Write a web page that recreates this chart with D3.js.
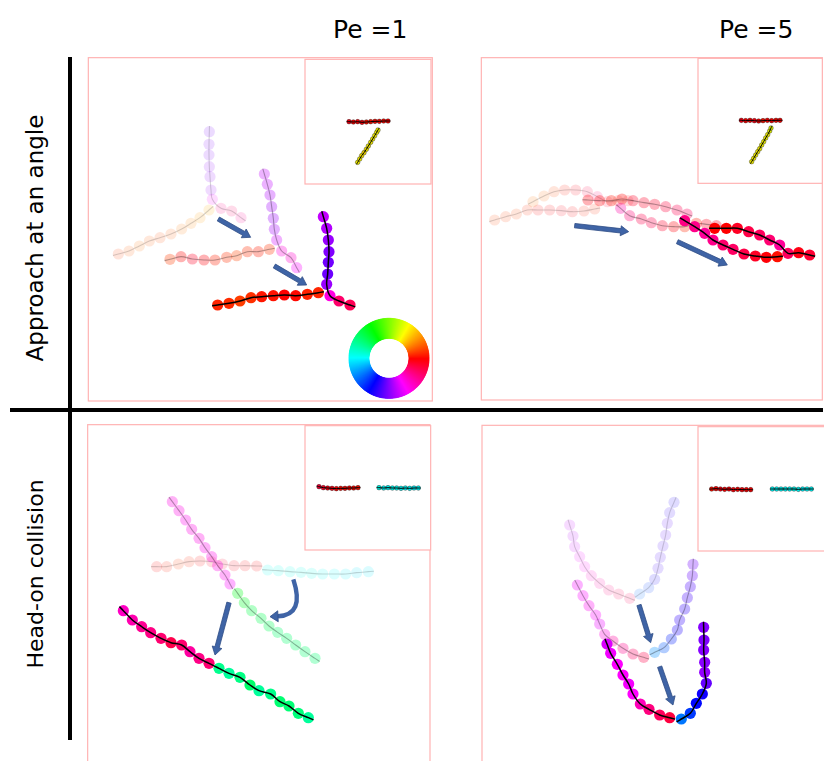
<!DOCTYPE html>
<html lang="en">
<head>
<meta charset="UTF-8">
<title>Filament collisions</title>
<script src="https://d3js.org/d3.v7.min.js"></script>
<style>
  body { margin: 0; background: #fff; }
  text { font-family: "DejaVu Sans", sans-serif; fill: #000; }
</style>
</head>
<body>
<svg id="fig" width="824" height="761"></svg>
<script>
// bead centres, in panel units (0..1050 across a panel window)
// each filament is ordered head -> tail, its colour comes from the local direction

// approach at an angle, Pe = 1
var tlA1 = [[100,597],[132,588],[163,573],[193,558],[225,548],[258,537],[290,522],[318,505],[345,488],[372,465]];
var tlB1 = [[373,230],[372,268],[372,300],[373,335],[375,365],[378,405],[382,433],[408,460],[440,468],[468,488]];
var tlA2 = [[255,613],[288,605],[322,612],[357,615],[390,615],[425,607],[455,602],[487,590],[520,590],[553,583]];
var tlB2 = [[538,357],[547,388],[555,420],[560,455],[565,490],[568,523],[575,555],[590,588],[618,608],[635,638]];
var tlA3 = [[398,750],[432,745],[465,738],[498,728],[530,725],[565,722],[598,720],[632,722],[667,718],[700,713]];
var tlB3 = [[715,485],[725,520],[730,555],[732,590],[730,622],[728,657],[725,688],[735,722],[762,738],[795,750]];
var tlInA = [[792,200],[805,201],[818,200],[831,202],[844,201],[857,200],[870,199],[883,199],[896,198],[909,198]];
var tlInB = [[818,322],[824,312],[830,302],[837,293],[844,283],[850,273],[857,262],[863,252],[869,242],[875,232],[879,225]];

// approach at an angle, Pe = 5
var trA1 = [[50,495],[83,485],[115,477],[148,465],[180,465],[215,465],[250,467],[283,470],[318,468],[350,462]];
var trB1 = [[165,440],[198,423],[228,410],[260,405],[293,405],[328,410],[358,425],[388,440],[420,437],[450,437]];
var trA2 = [[330,435],[365,437],[400,437],[432,432],[465,437],[498,443],[530,448],[563,455],[597,465],[627,477]];
var trB2 = [[428,460],[455,482],[490,492],[520,503],[553,512],[587,515],[620,515],[655,505],[685,508],[715,512]];
var trA3 = [[620,497],[650,515],[680,535],[705,555],[735,570],[765,583],[798,597],[832,603],[865,607],[898,605]];
var trB3 = [[710,520],[745,520],[778,520],[812,530],[845,540],[875,555],[905,570],[930,595],[962,593],[995,600]];
var trInA = [[790,196],[803,197],[816,196],[829,197],[842,198],[855,197],[868,196],[881,197],[894,196],[906,196]];
var trInB = [[821,320],[827,310],[833,300],[839,290],[845,281],[851,270],[857,260],[863,249],[869,239],[875,228],[879,219]];

// head-on collision, Pe = 1
var blA1 = [[215,440],[245,440],[280,432],[312,425],[345,423],[380,425],[412,432],[447,437],[480,437],[515,438]];
var blB1 = [[850,455],[815,458],[782,462],[748,462],[713,462],[680,460],[648,457],[615,455],[580,452],[548,450]];
var blA2 = [[262,245],[282,272],[302,300],[320,328],[342,355],[360,383],[380,410],[398,437],[420,465],[435,492]];
var blB2 = [[690,715],[660,695],[632,675],[605,655],[578,637],[552,618],[528,595],[500,572],[478,548],[458,520]];
var blA3 = [[115,572],[142,600],[170,620],[197,638],[228,655],[258,668],[290,675],[315,695],[342,715],[372,730]];
var blB3 = [[670,893],[640,880],[612,858],[585,845],[557,822],[522,812],[495,795],[465,772],[432,760],[402,745]];
var blInA = [[702,200],[715,203],[728,204],[741,205],[754,206],[767,205],[780,205],[793,204],[806,204],[819,203]];
var blInB = [[1000,204],[987,204],[974,205],[961,204],[948,205],[935,204],[922,204],[909,203],[896,204],[882,203]];

// head-on collision, Pe = 5
var brA1 = [[275,315],[285,348],[290,380],[305,410],[320,440],[340,467],[365,490],[392,510],[422,522],[455,535]];
var brB1 = [[588,247],[575,278],[568,310],[563,345],[555,378],[547,412],[540,445],[530,478],[512,503],[485,522]];
var brA2 = [[298,495],[315,527],[333,557],[353,585],[365,612],[380,643],[405,663],[435,685],[465,702],[497,712]];
var brB2 = [[645,433],[643,467],[637,500],[628,533],[620,567],[605,600],[598,630],[580,657],[558,683],[530,697]];
var brA3 = [[387,672],[398,700],[418,733],[435,765],[452,792],[465,822],[487,852],[513,868],[545,885],[575,893]];
var brB3 = [[677,622],[678,660],[677,690],[680,727],[680,757],[685,790],[673,822],[655,850],[637,880],[610,897]];
var brInA = [[701,207],[714,206],[727,207],[740,208],[753,207],[766,209],[779,208],[792,209],[805,209],[818,209]];
var brInB = [[1000,207],[987,207],[974,207],[961,208],[948,207],[935,207],[922,207],[909,207],[896,207],[883,207]];

// arrows: [from, to]
var tlArrows = [[[400,492],[497,547]], [[568,633],[665,690]]];
var trArrows = [[[290,512],[452,530]], [[598,560],[748,630]]];
var blArrows = [[[432,548],[390,705]]];
var blCurved = [[625,478],[660,585],[555,590]];
var brArrows = [[[483,555],[518,668]], [[545,740],[585,855]]];

var colLabels = ["Pe =1", "Pe =5"];
var rowLabels = ["Approach at an angle", "Head-on collision"];

var svg = d3.select("#fig");

function scales(ox, oy) {
    return {
        x: d3.scaleLinear().domain([0,1050]).range([ox, ox+350]),
        y: d3.scaleLinear().domain([0,1050]).range([oy, oy+350])
    };
}

// hue = direction of the filament at bead i (0 = pointing right, counter-clockwise)
function hueAt(pts, i, sc) {
    var a = pts[Math.max(0,i-1)], b = pts[Math.min(pts.length-1,i+1)];
    var dx = sc.x(b[0])-sc.x(a[0]), dy = sc.y(b[1])-sc.y(a[1]);
    var h = Math.atan2(-dy, dx)*180/Math.PI;
    return h < 0 ? h+360 : h;
}

function drawChain(g, pts, sc, alpha, r, light, lw, lineAlpha, outline) {
    g.selectAll(null).data(pts).enter().append("circle")
        .attr("cx", function(d){ return sc.x(d[0]); })
        .attr("cy", function(d){ return sc.y(d[1]); })
        .attr("r", r)
        .attr("fill", function(d,i){ return d3.hsl(hueAt(pts,i,sc), 1, light).toString(); })
        .attr("fill-opacity", alpha)
        .attr("stroke", outline ? "#000" : "none")
        .attr("stroke-width", 0.5)
        .attr("stroke-opacity", 0.7);
    // centre line, running out to the edge of the end beads
    var p = pts.map(function(d){ return [sc.x(d[0]), sc.y(d[1])]; });
    var n = p.length;
    function ext(a, b) {
        var dx = a[0]-b[0], dy = a[1]-b[1], L = Math.hypot(dx,dy);
        return [a[0]+dx/L*r, a[1]+dy/L*r];
    }
    var full = [ext(p[0],p[1])].concat(p).concat([ext(p[n-1],p[n-2])]);
    g.append("path")
        .attr("d", d3.line().curve(d3.curveCatmullRom)(full))
        .attr("fill", "none")
        .attr("stroke", "#000")
        .attr("stroke-opacity", lineAlpha)
        .attr("stroke-width", lw);
}

function blockArrow(g, x0, y0, x1, y1) {
    var dx = x1-x0, dy = y1-y0, L = Math.hypot(dx,dy), ux = dx/L, uy = dy/L, nx = -uy, ny = ux;
    var sw = 2.2, hw = 5, hl = 8;
    var bx = x1-ux*hl, by = y1-uy*hl;
    var pts = [[x0+nx*sw,y0+ny*sw],[bx+nx*sw,by+ny*sw],[bx+nx*hw,by+ny*hw],[x1,y1],
               [bx-nx*hw,by-ny*hw],[bx-nx*sw,by-ny*sw],[x0-nx*sw,y0-ny*sw]];
    g.append("polygon")
        .attr("points", pts.map(function(p){ return p.join(","); }).join(" "))
        .attr("fill", "#3f64a6")
        .attr("stroke", "#2e4c85")
        .attr("stroke-width", 0.8);
}

function curvedArrow(g, c, sc) {
    var p0 = [sc.x(c[0][0]), sc.y(c[0][1])], p1 = [sc.x(c[1][0]), sc.y(c[1][1])], p2 = [sc.x(c[2][0]), sc.y(c[2][1])];
    var dx = p2[0]-p1[0], dy = p2[1]-p1[1], L = Math.hypot(dx,dy), ux = dx/L, uy = dy/L;
    var hl = 8, hw = 5.5;
    var e = [p2[0]-ux*hl, p2[1]-uy*hl];
    var path = d3.path();
    path.moveTo(p0[0], p0[1]);
    path.quadraticCurveTo(p1[0], p1[1], e[0], e[1]);
    g.append("path").attr("d", path.toString()).attr("fill","none")
        .attr("stroke","#3f64a6").attr("stroke-width",4.4);
    var nx = -uy, ny = ux;
    g.append("polygon")
        .attr("points", [[e[0]+nx*hw,e[1]+ny*hw],[p2[0],p2[1]],[e[0]-nx*hw,e[1]-ny*hw]].map(function(p){ return p.join(","); }).join(" "))
        .attr("fill","#3f64a6").attr("stroke","#2e4c85").attr("stroke-width",0.8);
}

function frame(g, sc, x0, y0, x1, y1) {
    g.append("rect")
        .attr("x", sc.x(x0)).attr("y", sc.y(y0))
        .attr("width", sc.x(x1)-sc.x(x0)).attr("height", sc.y(y1)-sc.y(y0))
        .attr("fill", "#fff").attr("stroke", "#ffb3b3").attr("stroke-width", 1.2);
}

var panels = [
    {ox:85,  oy:55,  frame:[10,8,1042,1038],  inset:[660,13,1038,387],
     snaps:[[tlA1,tlB1],[tlA2,tlB2],[tlA3,tlB3]], inA:tlInA, inB:tlInB, arrows:tlArrows},
    {ox:478, oy:55,  frame:[10,8,1033,1035],  inset:[660,10,1033,385],
     snaps:[[trA1,trB1],[trA2,trB2],[trA3,trB3]], inA:trInA, inB:trInB, arrows:trArrows},
    {ox:85,  oy:420, frame:[8,14,1035,1200],  inset:[660,17,1037,390],
     snaps:[[blA1,blB1],[blA2,blB2],[blA3,blB3]], inA:blInA, inB:blInB, arrows:blArrows, curved:blCurved},
    {ox:478, oy:420, frame:[12,16,1060,1200], inset:[660,20,1060,393],
     snaps:[[brA1,brB1],[brA2,brB2],[brA3,brB3]], inA:brInA, inB:brInB, arrows:brArrows}
];
var snapAlpha = [0.14, 0.3, 1];
var lineAlpha = [0.16, 0.3, 1];

panels.forEach(function(p) {
    var sc = scales(p.ox, p.oy);
    var g = svg.append("g");
    frame(g, sc, p.frame[0], p.frame[1], p.frame[2], p.frame[3]);
    frame(g, sc, p.inset[0], p.inset[1], p.inset[2], p.inset[3]);
    drawChain(g, p.inA, sc, 1, 2.3, 0.45, 1, 1, true);
    drawChain(g, p.inB, sc, 1, 2.3, 0.45, 1, 1, true);
    p.snaps.forEach(function(s, k) {
        s.forEach(function(f) {
            drawChain(g, f, sc, snapAlpha[k], 5.6, 0.5, k == 2 ? 1.5 : 1.1, lineAlpha[k], false);
        });
    });
    p.arrows.forEach(function(a) {
        blockArrow(g, sc.x(a[0][0]), sc.y(a[0][1]), sc.x(a[1][0]), sc.y(a[1][1]));
    });
    if (p.curved) curvedArrow(g, p.curved, sc);
});

// colour wheel for the direction -> colour map
var wsc = scales(85, 55);
var wheel = svg.append("g")
    .attr("transform", "translate(" + wsc.x(912) + "," + wsc.y(910) + ")");
var arc = d3.arc().innerRadius(20).outerRadius(40);
d3.range(0, 360, 1).forEach(function(h) {
    var a = (90 - h) * Math.PI/180;
    var c = d3.hsl(h, 1, 0.5).toString();
    wheel.append("path")
        .attr("d", arc({startAngle: a - 0.9*Math.PI/180, endAngle: a + 0.9*Math.PI/180}))
        .attr("fill", c).attr("stroke", c).attr("stroke-width", 0.6);
});

// grid separators
svg.append("rect").attr("x", 68).attr("y", 57).attr("width", 4).attr("height", 683).attr("fill", "#000");
svg.append("rect").attr("x", 10).attr("y", 408).attr("width", 813).attr("height", 4).attr("fill", "#000");

svg.append("text").attr("x", 333).attr("y", 38).attr("font-size", 25).text(colLabels[0]);
svg.append("text").attr("x", 719).attr("y", 38).attr("font-size", 25).text(colLabels[1]);
svg.append("text").attr("transform", "translate(43,238) rotate(-90)")
    .attr("text-anchor", "middle").attr("font-size", 23).text(rowLabels[0]);
svg.append("text").attr("transform", "translate(43,574) rotate(-90)")
    .attr("text-anchor", "middle").attr("font-size", 22).text(rowLabels[1]);
</script>
</body>
</html>
